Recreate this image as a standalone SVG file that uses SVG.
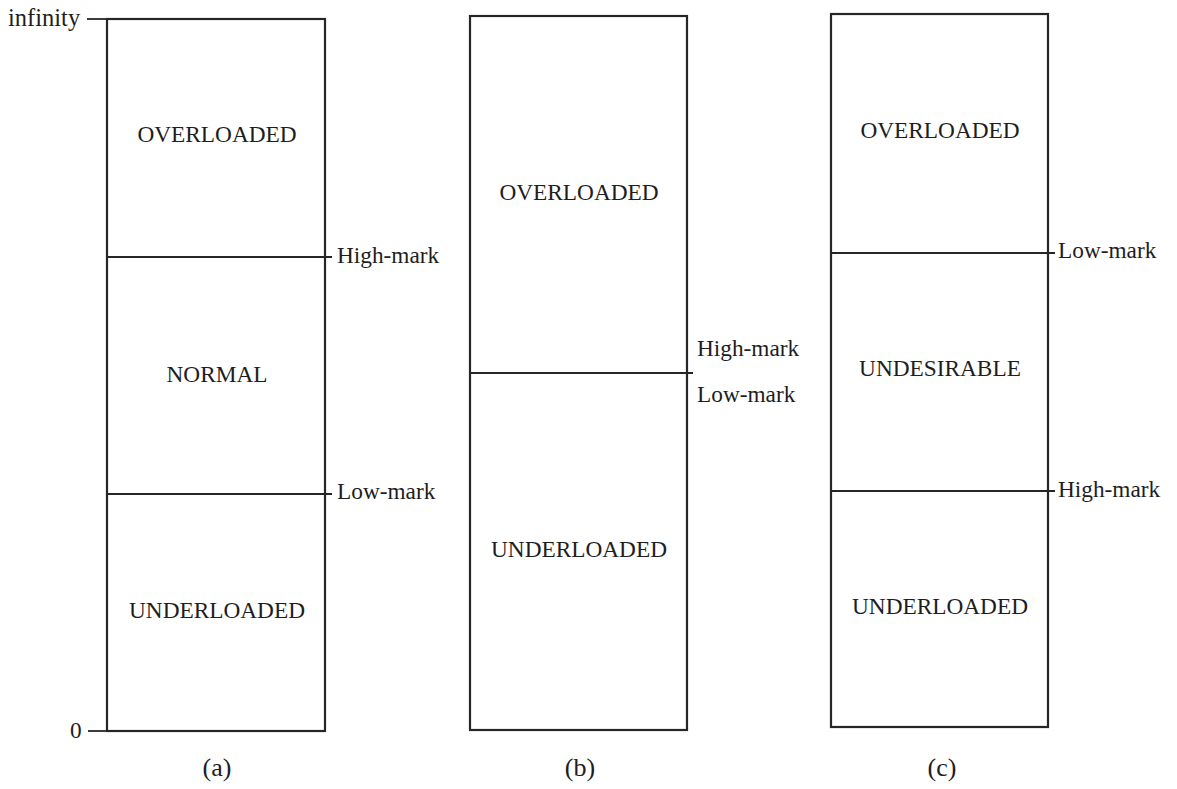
<svg xmlns="http://www.w3.org/2000/svg" width="1177" height="789" viewBox="0 0 1177 789">
<style>
.box{fill:none;stroke:#262626;stroke-width:2.2}
.ln{stroke:#262626;stroke-width:1.8;fill:none}
.t{font-family:"Liberation Serif","Times New Roman",serif;font-size:23.3px;fill:#1e1e1e}
.c{font-size:26px}
.m{text-anchor:middle}
</style>
<rect width="1177" height="789" fill="#fff"/>
<g id="panel-a">
<rect class="box" x="107" y="19" width="218" height="712"/>
<text class="t m" x="217" y="142">OVERLOADED</text>
<text class="t m" x="217" y="382">NORMAL</text>
<text class="t m" x="217" y="618">UNDERLOADED</text>
<text class="t" x="8" y="26" style="font-size:24.5px">infinity</text>
<text class="t" x="70" y="738">0</text>
<text class="t c m" x="217" y="776">(a)</text>
<text class="t" x="337" y="263">High-mark</text>
<text class="t" x="337" y="499">Low-mark</text>
</g>
<g id="panel-b">
<rect class="box" x="470" y="16" width="217" height="714"/>
<text class="t m" x="579" y="200">OVERLOADED</text>
<text class="t m" x="579" y="557">UNDERLOADED</text>
<text class="t" x="697" y="356">High-mark</text>
<text class="t" x="697" y="402">Low-mark</text>
<text class="t c m" x="580" y="776">(b)</text>
</g>
<g id="panel-c">
<rect class="box" x="831" y="14" width="217" height="713"/>
<text class="t m" x="940" y="138">OVERLOADED</text>
<text class="t m" x="940" y="376">UNDESIRABLE</text>
<text class="t m" x="940" y="614">UNDERLOADED</text>
<text class="t" x="1058" y="258">Low-mark</text>
<text class="t" x="1058" y="497">High-mark</text>
<text class="t c m" x="942" y="776">(c)</text>
</g>
<g id="connectors">
<line class="ln" x1="87" y1="19" x2="107" y2="19"/>
<line class="ln" x1="88" y1="731" x2="107" y2="731"/>
<line class="ln" x1="107" y1="257" x2="332" y2="257"/>
<line class="ln" x1="107" y1="494" x2="332" y2="494"/>
<line class="ln" x1="470" y1="373" x2="693" y2="373"/>
<line class="ln" x1="831" y1="253" x2="1055" y2="253"/>
<line class="ln" x1="831" y1="491" x2="1055" y2="491"/>
</g>
</svg>
